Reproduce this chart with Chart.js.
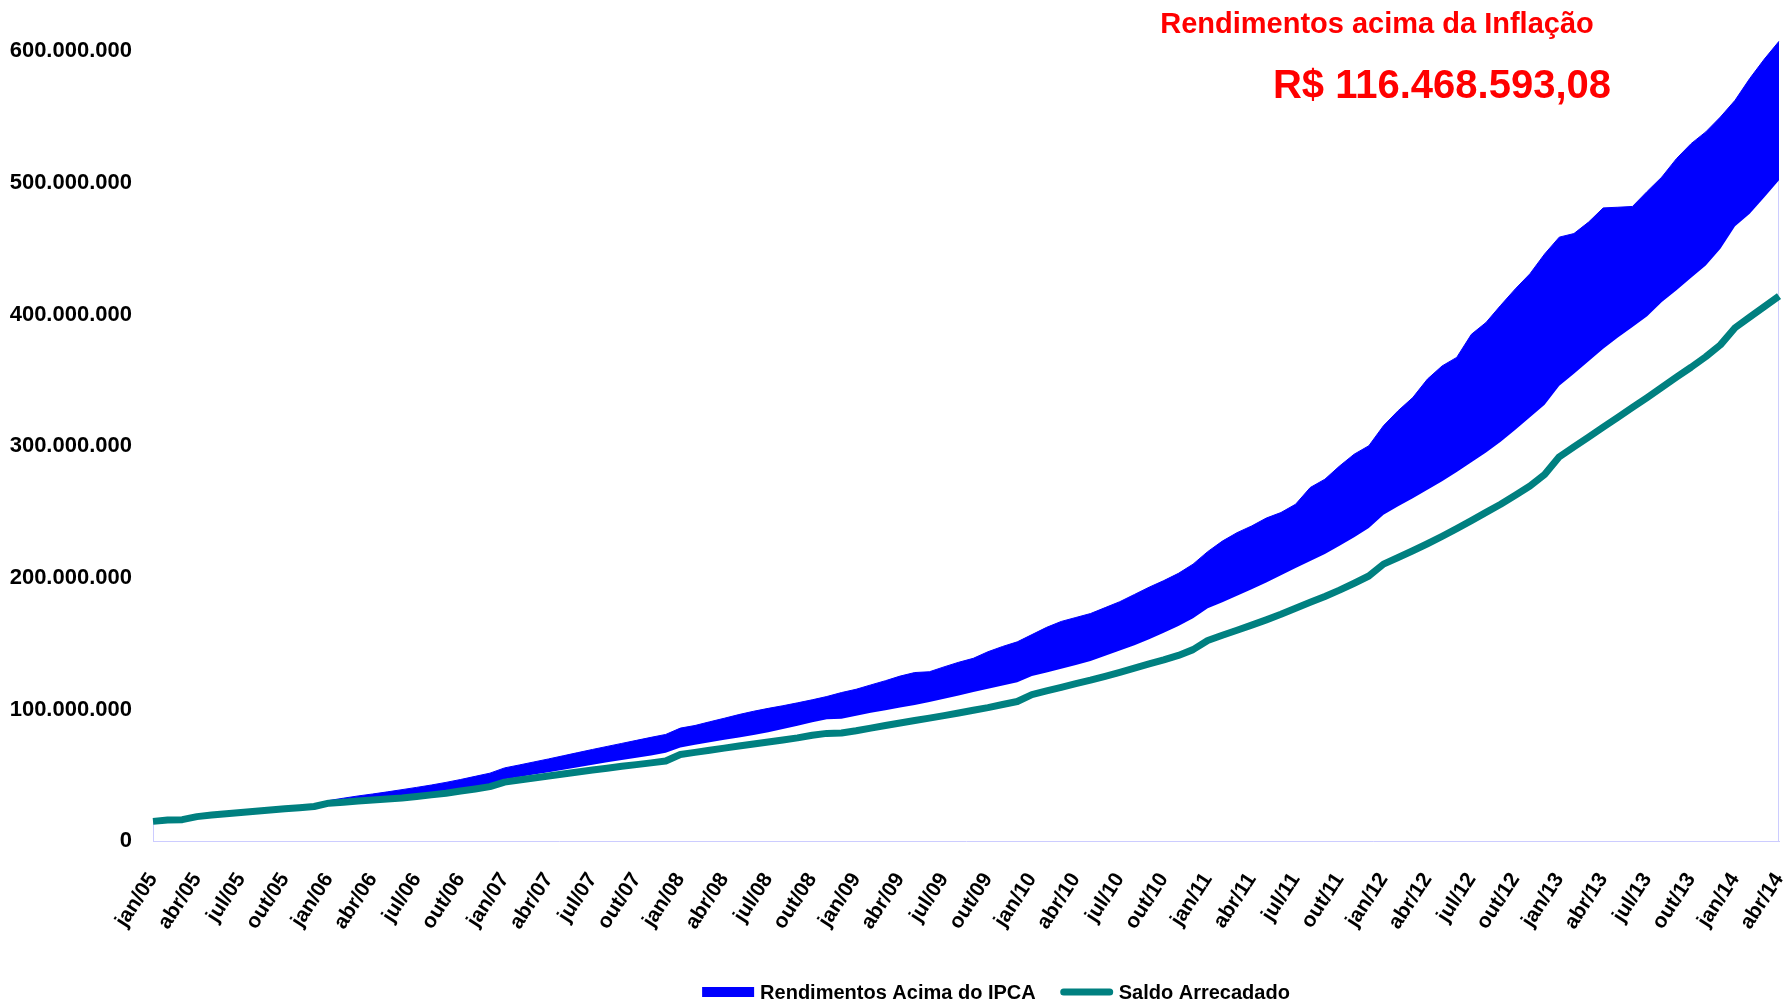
<!DOCTYPE html>
<html lang="pt-BR">
<head>
<meta charset="utf-8">
<title>Rendimentos acima da Inflação</title>
<script src="https://cdn.jsdelivr.net/npm/chart.js@4.4.1/dist/chart.umd.min.js"></script>
<style>
  html, body { margin: 0; padding: 0; background: #fff; }
  #wrap { width: 1790px; height: 1000px; position: relative; }
</style>
</head>
<body>
<div id="wrap"><canvas id="chart"></canvas></div>
<script>
// meses de jan/05 a abr/14
const months = [
    'jan/05', 'fev/05', 'mar/05', 'abr/05', 'mai/05', 'jun/05', 'jul/05', 'ago/05', 'set/05', 'out/05', 'nov/05', 'dez/05',
    'jan/06', 'fev/06', 'mar/06', 'abr/06', 'mai/06', 'jun/06', 'jul/06', 'ago/06', 'set/06', 'out/06', 'nov/06', 'dez/06',
    'jan/07', 'fev/07', 'mar/07', 'abr/07', 'mai/07', 'jun/07', 'jul/07', 'ago/07', 'set/07', 'out/07', 'nov/07', 'dez/07',
    'jan/08', 'fev/08', 'mar/08', 'abr/08', 'mai/08', 'jun/08', 'jul/08', 'ago/08', 'set/08', 'out/08', 'nov/08', 'dez/08',
    'jan/09', 'fev/09', 'mar/09', 'abr/09', 'mai/09', 'jun/09', 'jul/09', 'ago/09', 'set/09', 'out/09', 'nov/09', 'dez/09',
    'jan/10', 'fev/10', 'mar/10', 'abr/10', 'mai/10', 'jun/10', 'jul/10', 'ago/10', 'set/10', 'out/10', 'nov/10', 'dez/10',
    'jan/11', 'fev/11', 'mar/11', 'abr/11', 'mai/11', 'jun/11', 'jul/11', 'ago/11', 'set/11', 'out/11', 'nov/11', 'dez/11',
    'jan/12', 'fev/12', 'mar/12', 'abr/12', 'mai/12', 'jun/12', 'jul/12', 'ago/12', 'set/12', 'out/12', 'nov/12', 'dez/12',
    'jan/13', 'fev/13', 'mar/13', 'abr/13', 'mai/13', 'jun/13', 'jul/13', 'ago/13', 'set/13', 'out/13', 'nov/13', 'dez/13',
    'jan/14', 'fev/14', 'mar/14', 'abr/14'
];

// valores em milhoes de R$
const saldoArrecadado = [
    15.2, 16.2, 16.5, 18.8, 20.0, 21.0, 22.0, 22.9, 23.8, 24.7, 25.6, 26.5,
    29.0, 29.8, 30.6, 31.4, 32.2, 33.0, 34.1, 35.3, 36.6, 38.2, 39.8, 41.6,
    45.0, 46.6, 48.1, 49.6, 51.1, 52.7, 54.2, 55.6, 57.0, 58.3, 59.6, 61.0,
    66.0, 67.6, 69.2, 70.8, 72.4, 74.0, 75.5, 77.0, 78.6, 80.6, 82.0, 82.3,
    84.0, 86.0, 88.0, 89.9, 91.8, 93.6, 95.5, 97.5, 99.6, 101.6, 103.9, 106.2,
    111.5, 114.3, 117.0, 119.8, 122.4, 125.3, 128.3, 131.5, 134.7, 137.8, 141.2, 145.6,
    152.5, 156.5, 160.3, 164.2, 168.2, 172.4, 177.0, 181.5, 186.0, 190.8, 196.0, 201.5,
    210.5, 215.5, 220.7, 226.0, 231.6, 237.5, 243.6, 249.8, 256.0, 262.8, 269.8, 278.5,
    292.0, 299.5, 307.0, 314.5, 322.0, 329.5, 337.0, 344.7, 352.5, 360.0, 368.0, 377.0,
    390.0, 398.0, 406.0, 414.0
];

// saldo corrigido pelo IPCA (base da faixa azul)
const saldoCorrigidoIPCA = [
    15.3, 16.3, 16.6, 18.9, 20.2, 21.2, 22.2, 23.2, 24.1, 25.0, 26.0, 27.0,
    29.6, 30.5, 31.4, 32.3, 33.2, 34.1, 35.3, 36.6, 38.0, 39.7, 41.4, 43.3,
    47.2, 48.9, 50.7, 52.5, 54.4, 56.3, 58.2, 60.0, 61.8, 63.5, 65.3, 67.3,
    71.3, 73.4, 75.3, 77.1, 78.9, 80.8, 82.8, 85.3, 87.8, 90.4, 92.8, 93.1,
    95.4, 97.6, 99.6, 101.6, 103.5, 105.9, 108.3, 110.8, 113.4, 115.8, 118.3, 120.8,
    125.5, 128.2, 131.0, 134.0, 137.0, 141.0, 145.0, 149.0, 153.5, 158.5, 163.5, 169.5,
    177.0, 181.5, 186.5, 191.5, 196.5, 202.0, 207.5, 212.8, 218.3, 224.5, 231.0, 238.0,
    248.0, 254.5, 260.5, 267.0, 273.5, 280.5, 287.8, 295.3, 303.5, 312.5, 322.0, 331.5,
    346.0, 355.0, 364.5, 374.0, 382.5, 390.5, 398.8, 409.5, 418.5, 428.0, 437.3, 450.0,
    467.0, 476.6, 489.0, 502.0
];

// saldo com rendimentos (topo da faixa azul)
const saldoComRendimentos = [
    15.4, 16.4, 16.7, 19.1, 20.4, 21.5, 22.6, 23.6, 24.6, 25.6, 26.7, 27.7,
    31.0, 32.8, 34.5, 36.0, 37.6, 39.3, 41.0, 42.8, 44.8, 47.0, 49.4, 51.8,
    55.8, 58.0, 60.3, 62.6, 65.0, 67.4, 69.8, 72.1, 74.4, 76.7, 79.0, 81.2,
    86.0, 88.0, 90.8, 93.5, 96.3, 98.8, 101.0, 103.0, 105.2, 107.5, 110.0, 113.0,
    115.5, 118.8, 122.0, 125.5, 128.2, 128.8, 132.5, 136.0, 139.0, 144.0, 148.0, 151.5,
    157.0, 162.5, 167.0, 170.0, 173.0, 177.5, 182.0, 187.5, 193.0, 198.0, 203.5, 210.5,
    220.0, 228.0, 234.4, 239.5, 245.5, 249.7, 256.0, 268.7, 275.0, 285.0, 294.0, 300.4,
    315.6, 327.0, 337.0, 351.0, 361.0, 367.5, 385.0, 394.0, 407.0, 419.5, 431.0, 446.0,
    458.8, 461.5, 470.2, 481.0, 481.5, 482.1, 493.5, 504.4, 518.4, 529.8, 538.7, 550.0,
    562.7, 579.2, 594.0, 607.5
];

const yTicks = [0, 100, 200, 300, 400, 500, 600];
const noteTitle = 'Rendimentos acima da Inflação';
const noteValue = 'R$ 116.468.593,08';

const FONT = '"Liberation Sans", Arial, sans-serif';
Chart.defaults.font.family = FONT;
Chart.defaults.font.weight = 'bold';
Chart.defaults.color = '#000';

function formatBR(v) {
    return String(Math.round(v * 1e6)).replace(/\B(?=(\d{3})+(?!\d))/g, '.');
}

// borda lilas da area de base (laterais)
const baseEdges = {
    id: 'baseEdges',
    beforeDatasetsDraw(chart) {
        const {ctx, scales: {x, y}} = chart;
        const last = months.length - 1;
        const x0 = Math.round(x.getPixelForValue(0)) + 0.5;
        const x1 = Math.round(x.getPixelForValue(last)) - 0.5;
        ctx.save();
        ctx.strokeStyle = '#ccccff';
        ctx.lineWidth = 1;
        ctx.beginPath();
        ctx.moveTo(x0, y.getPixelForValue(0));
        ctx.lineTo(x0, y.getPixelForValue(saldoCorrigidoIPCA[0]));
        ctx.moveTo(x1, y.getPixelForValue(0));
        ctx.lineTo(x1, y.getPixelForValue(saldoCorrigidoIPCA[last]));
        ctx.stroke();
        ctx.restore();
    }
};

const redNotes = {
    id: 'redNotes',
    afterDraw(chart) {
        const ctx = chart.ctx;
        ctx.save();
        ctx.fillStyle = '#ff0000';
        ctx.textAlign = 'center';
        ctx.textBaseline = 'alphabetic';
        ctx.font = `bold 29px ${FONT}`;
        ctx.fillText(noteTitle, 1377, 33);
        ctx.font = `bold 40px ${FONT}`;
        ctx.fillText(noteValue, 1442, 98);
        ctx.restore();
    }
};

const bottomLegend = {
    id: 'bottomLegend',
    afterDraw(chart, args, opts) {
        const ctx = chart.ctx;
        const items = opts.order.map(i => chart.data.datasets[i]);
        ctx.save();
        ctx.font = `bold 20px ${FONT}`;
        ctx.textBaseline = 'middle';
        ctx.textAlign = 'left';
        const widths = items.map(ds => opts.markerWidth + opts.markerGap + ctx.measureText(ds.label).width);
        const total = widths.reduce((a, b) => a + b, 0) + opts.itemGap * (items.length - 1);
        let x = opts.centerX - total / 2;
        items.forEach((ds, k) => {
            if (ds.fill) {
                ctx.fillStyle = ds.backgroundColor;
                ctx.fillRect(x, opts.y - 5, opts.markerWidth, 10);
            } else {
                ctx.strokeStyle = ds.borderColor;
                ctx.lineWidth = ds.borderWidth;
                ctx.lineCap = 'round';
                ctx.beginPath();
                ctx.moveTo(x + 3, opts.y);
                ctx.lineTo(x + opts.markerWidth - 3, opts.y);
                ctx.stroke();
            }
            ctx.fillStyle = '#000';
            ctx.fillText(ds.label, x + opts.markerWidth + opts.markerGap, opts.y + 1);
            x += widths[k] + opts.itemGap;
        });
        ctx.restore();
    }
};

new Chart(document.getElementById('chart'), {
    type: 'line',
    data: {
        labels: months,
        datasets: [
            {
                label: 'Saldo Arrecadado',
                data: saldoArrecadado,
                borderColor: '#008080',
                borderWidth: 7,
                borderJoinStyle: 'round',
                fill: false,
                pointRadius: 0
            },
            {
                label: 'Saldo corrigido pelo IPCA',
                data: saldoCorrigidoIPCA,
                borderColor: 'rgba(0,0,0,0)',
                borderWidth: 0,
                fill: false,
                pointRadius: 0
            },
            {
                label: 'Rendimentos Acima do IPCA',
                data: saldoComRendimentos,
                borderColor: '#0000ff',
                borderWidth: 1,
                backgroundColor: '#0000ff',
                fill: '-1',
                pointRadius: 0
            }
        ]
    },
    options: {
        responsive: true,
        maintainAspectRatio: false,
        animation: false,
        events: [],
        layout: { padding: { left: 10, right: 11, top: 38, bottom: 39 } },
        scales: {
            x: {
                grid: { display: false, drawTicks: false },
                border: { display: true, color: '#ccccff', width: 1 },
                afterFit: (axis) => { axis.paddingLeft = 0; axis.paddingRight = 0; },
                ticks: {
                    autoSkip: false,
                    maxRotation: 57,
                    minRotation: 57,
                    padding: 27,
                    font: { size: 21, weight: 'bold' },
                    callback: function (value, index) {
                        return index % 3 === 0 ? months[index] : '';
                    }
                }
            },
            y: {
                min: 0,
                max: 610,
                grid: { display: false, drawTicks: false },
                border: { display: false },
                afterBuildTicks: (axis) => { axis.ticks = yTicks.map(v => ({ value: v })); },
                afterFit: (axis) => { axis.width = 143; },
                ticks: {
                    padding: 21,
                    font: { size: 22, weight: 'bold' },
                    callback: (v) => formatBR(v)
                }
            }
        },
        plugins: {
            legend: { display: false },
            tooltip: { enabled: false },
            bottomLegend: { order: [2, 0], centerX: 996, y: 992, markerWidth: 52, markerGap: 6, itemGap: 25 }
        }
    },
    plugins: [baseEdges, redNotes, bottomLegend]
});
</script>
</body>
</html>
